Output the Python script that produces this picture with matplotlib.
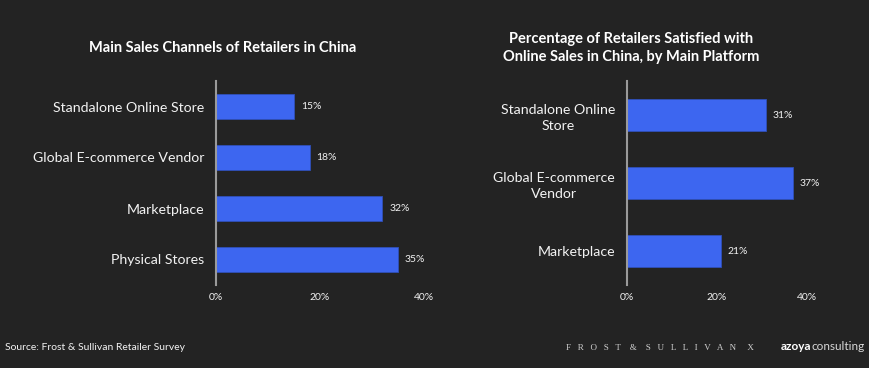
import matplotlib.pyplot as plt

# Datos
canales = ['Standalone Online Store', 'Global E-commerce Vendor', 'Marketplace', 'Physical Stores']
canales_pct = [15, 18, 32, 35]

plataformas = ['Standalone Online\nStore', 'Global E-commerce\nVendor', 'Marketplace']
satisfechos_pct = [31, 37, 21]

ticks = [0, 20, 40]
tick_labels = ['0%', '20%', '40%']

fondo = '#232323'
azul = '#3d66f0'
texto = '#f2f2f2'
plt.rcParams['font.family'] = ['Lato', 'DejaVu Sans']

fig = plt.figure(figsize=(8.7, 3.68), dpi=100, facecolor=fondo)
W, H = 870, 368


def panel(x0, x1, etiquetas, valores, altura_rel):
    ax = fig.add_axes([x0 / W, 1 - 285 / H, (x1 - x0) / W, 204 / H])
    ax.set_facecolor(fondo)
    pos = list(range(len(valores)))
    ax.barh(pos, valores, height=altura_rel, color=azul, edgecolor='#2f4fb8', linewidth=0.6)
    ax.set_xlim(0, 40)
    ax.set_ylim(len(valores) - 0.5, -0.5)
    ax.set_yticks(pos)
    ax.set_yticklabels(etiquetas, color=texto, fontsize=10.2, linespacing=1.4,
                       multialignment='center')
    ax.set_xticks(ticks)
    ax.set_xticklabels(tick_labels, color=texto, fontsize=7.5)
    ax.tick_params(axis='both', length=0, pad=8.5)
    ax.tick_params(axis='x', pad=6)
    for s in ['top', 'right', 'bottom']:
        ax.spines[s].set_visible(False)
    ax.spines['left'].set_color('#9a9a9a')
    ax.spines['left'].set_linewidth(1.5)
    for p, v in zip(pos, valores):
        ax.text(v + 1.3, p, f'{v}%', color=texto, fontsize=7.5, va='center', ha='left')
    return ax


ax1 = panel(216, 424, canales, canales_pct, 0.49)
ax2 = panel(627, 807, plataformas, satisfechos_pct, 0.47)

fig.text(223 / W, 1 - 48 / H, 'Main Sales Channels of Retailers in China',
         color='white', fontsize=10.5, fontweight='bold', ha='center', va='center')
fig.text(631 / W, 1 - 48 / H, 'Percentage of Retailers Satisfied with\nOnline Sales in China, by Main Platform',
         color='white', fontsize=10.5, fontweight='bold', ha='center', va='center', linespacing=1.35)

fig.text(5 / W, 1 - 347 / H, 'Source: Frost & Sullivan Retailer Survey',
         color=texto, fontsize=7.5, ha='left', va='center')
fig.text(566 / W, 1 - 348 / H, 'F   R   O   S   T    &    S   U   L   L   I   V   A   N     X',
         color='#cfcfcf', fontsize=6.5, family='Liberation Serif', ha='left', va='center')
fig.text(811 / W, 1 - 347 / H, 'azoya', color='white', fontsize=8.5, fontweight='bold', ha='right', va='center')
fig.text(865 / W, 1 - 347 / H, 'consulting', color='#d8d8d8', fontsize=8.5, ha='right', va='center')

fig.savefig('out.png', dpi=100, facecolor=fondo)
